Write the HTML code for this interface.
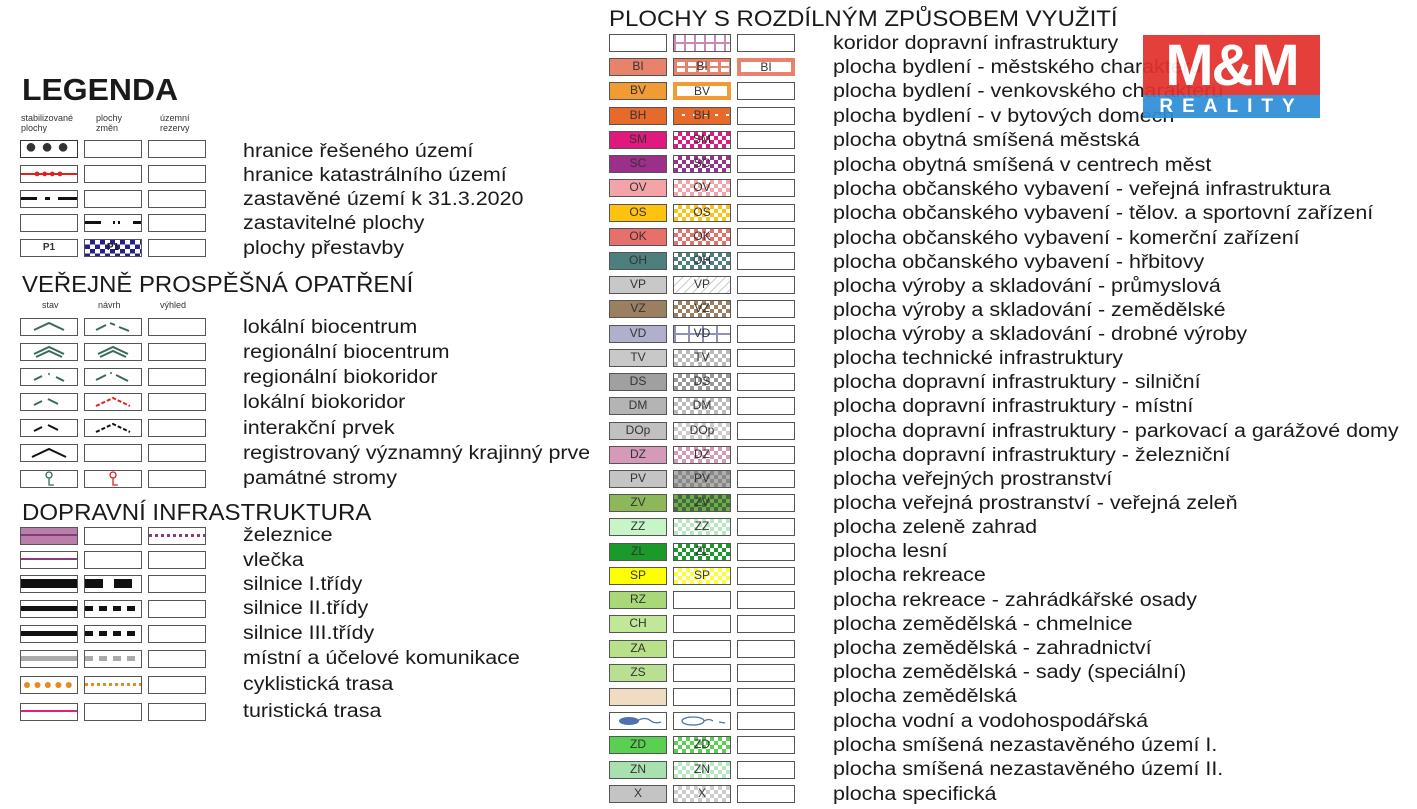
<!DOCTYPE html>
<html><head><meta charset="utf-8"><style>
body{margin:0;width:1417px;height:809px;background:#fff;position:relative;overflow:hidden;font-family:"Liberation Sans",sans-serif;color:#1a1a1a}
.b{position:absolute;box-sizing:border-box;width:58px;height:18px;border:1.5px solid #555;background:#fff;font-size:12px;line-height:15px;text-align:center;color:#333}
.t{position:absolute;font-size:19px;line-height:22px;white-space:nowrap;transform:scaleX(1.13);transform-origin:0 0}
.h{position:absolute;font-size:23px;white-space:nowrap;line-height:26px;transform-origin:0 0}
.s{position:absolute;font-size:9px;line-height:10px;color:#333}
.c1{left:609px}.c2{left:673px}.c3{left:737px}
.l1{left:20px}.l2{left:84px}.l3{left:148px}
</style></head><body>
<div style="position:absolute;left:22px;top:73px;font-size:31px;font-weight:bold;line-height:34px;transform:scaleX(1.03);transform-origin:0 0">LEGENDA</div>
<div class="s" style="left:21px;top:113px">stabilizované<br>plochy</div>
<div class="s" style="left:96px;top:113px">plochy<br>změn</div>
<div class="s" style="left:160px;top:113px">územní<br>rezervy</div>

<div class="b l1" style="top:140px;border-color:#333"><span style="font-size:20px;line-height:12px;letter-spacing:4px">●●●</span></div><div class="b l2" style="top:140px"></div><div class="b l3" style="top:140px"></div><div class="t" style="left:243px;top:141px">hranice řešeného území</div>
<div class="b l1" style="top:165px;background:linear-gradient(#fff 7px,#e0201a 7px,#e0201a 9px,#fff 9px)"><span style="color:#e0201a;font-size:11px;line-height:15px;letter-spacing:1px">●●●●</span></div><div class="b l2" style="top:165px"></div><div class="b l3" style="top:165px"></div><div class="t" style="left:243px;top:165px">hranice katastrálního území</div>
<div class="b l1" style="top:190px;background:linear-gradient(90deg,#111 0 16px,#fff 16px 24px,#111 24px 29px,#fff 29px 37px,#111 37px)0 6px/100% 3px no-repeat,#fff"></div><div class="b l2" style="top:190px"></div><div class="b l3" style="top:190px"></div><div class="t" style="left:243px;top:189px">zastavěné území k 31.3.2020</div>
<div class="b l1" style="top:214px"></div><div class="b l2" style="top:214px;background:linear-gradient(90deg,#111 0 16px,#fff 16px 28px,#111 28px 30px,#fff 30px 33px,#111 33px 35px,#fff 35px 48px,#111 48px)0 6px/100% 3px no-repeat,#fff"></div><div class="b l3" style="top:214px"></div><div class="t" style="left:243px;top:213px">zastavitelné plochy</div>
<div class="b l1" style="top:239px;font-weight:bold;font-size:10px">P1</div><div class="b l2" style="top:239px;background:repeating-conic-gradient(#22228a 0 25%,#fff 0 50%) 0 0/10px 9px;color:#222;font-weight:bold;font-size:10px">P1</div><div class="b l3" style="top:239px"></div><div class="t" style="left:243px;top:238px">plochy přestavby</div>

<div class="h" style="left:22px;top:271px;transform:scaleX(1.04)">VEŘEJNĚ PROSPĚŠNÁ OPATŘENÍ</div>
<div class="s" style="left:42px;top:300px">stav</div><div class="s" style="left:98px;top:300px">návrh</div><div class="s" style="left:160px;top:300px">výhled</div>

<div class="b l1" style="top:318px"><svg width="55" height="15"><polyline points="12,11 27,4 42,11" fill="none" stroke="#3a6a5a" stroke-width="2"/></svg></div><div class="b l2" style="top:318px"><svg width="55" height="15"><polyline points="10,11 20,6" stroke="#3a6a5a" stroke-width="2"/><polyline points="24,4 29,6" stroke="#3a6a5a" stroke-width="2"/><polyline points="33,8 43,12" stroke="#3a6a5a" stroke-width="2"/></svg></div><div class="b l3" style="top:318px"></div><div class="t" style="left:243px;top:317px">lokální biocentrum</div>
<div class="b l1" style="top:343px"><svg width="55" height="15"><polyline points="12,10 27,3 42,10" fill="none" stroke="#3a6a5a" stroke-width="2"/><polyline points="14,13 27,7 40,13" fill="none" stroke="#3a6a5a" stroke-width="2"/></svg></div><div class="b l2" style="top:343px"><svg width="55" height="15"><polyline points="12,10 27,3 42,10" fill="none" stroke="#3a6a5a" stroke-width="2"/><polyline points="14,13 27,7 40,13" fill="none" stroke="#3a6a5a" stroke-width="2"/></svg></div><div class="b l3" style="top:343px"></div><div class="t" style="left:243px;top:342px">regionální biocentrum</div>
<div class="b l1" style="top:368px"><svg width="55" height="15"><line x1="12" y1="11" x2="20" y2="7" stroke="#3a6a5a" stroke-width="2"/><line x1="34" y1="8" x2="42" y2="12" stroke="#3a6a5a" stroke-width="2"/><circle cx="27" cy="5" r="1" fill="#3a6a5a"/></svg></div><div class="b l2" style="top:368px"><svg width="55" height="15"><line x1="10" y1="11" x2="20" y2="6" stroke="#3a6a5a" stroke-width="2"/><line x1="30" y1="6" x2="42" y2="12" stroke="#3a6a5a" stroke-width="2"/><circle cx="25" cy="4" r="1" fill="#3a6a5a"/></svg></div><div class="b l3" style="top:368px"></div><div class="t" style="left:243px;top:367px">regionální biokoridor</div>
<div class="b l1" style="top:393px"><svg width="55" height="15"><line x1="12" y1="11" x2="20" y2="7" stroke="#3a6a5a" stroke-width="2"/><line x1="26" y1="5" x2="36" y2="10" stroke="#3a6a5a" stroke-width="2"/></svg></div><div class="b l2" style="top:393px"><svg width="55" height="15"><polyline points="10,12 27,4 44,12" fill="none" stroke="#d22" stroke-width="2" stroke-dasharray="4,2"/></svg></div><div class="b l3" style="top:393px"></div><div class="t" style="left:243px;top:392px">lokální biokoridor</div>
<div class="b l1" style="top:419px"><svg width="55" height="15"><line x1="12" y1="11" x2="20" y2="7" stroke="#111" stroke-width="2"/><line x1="26" y1="5" x2="36" y2="10" stroke="#111" stroke-width="2"/></svg></div><div class="b l2" style="top:419px"><svg width="55" height="15"><polyline points="10,12 27,4 44,12" fill="none" stroke="#111" stroke-width="2" stroke-dasharray="4,2"/></svg></div><div class="b l3" style="top:419px"></div><div class="t" style="left:243px;top:418px">interakční prvek</div>
<div class="b l1" style="top:444px"><svg width="55" height="15"><polyline points="10,12 27,4 44,12" fill="none" stroke="#111" stroke-width="2"/></svg></div><div class="b l2" style="top:444px"></div><div class="b l3" style="top:444px"></div><div style="position:absolute;left:243px;top:443px;width:346px;height:24px;overflow:hidden"><div class="t" style="left:0;top:0">registrovaný významný krajinný prvek</div></div>
<div class="b l1" style="top:470px"><svg width="55" height="15"><circle cx="27" cy="4" r="3" fill="none" stroke="#3a6a5a" stroke-width="1.3"/><polyline points="27,7 27,14 32,14" fill="none" stroke="#3a6a5a" stroke-width="1.3"/></svg></div><div class="b l2" style="top:470px"><svg width="55" height="15"><circle cx="27" cy="4" r="3" fill="none" stroke="#d22" stroke-width="1.3"/><polyline points="27,7 27,14 32,14" fill="none" stroke="#d22" stroke-width="1.3"/></svg></div><div class="b l3" style="top:470px"></div><div class="t" style="left:243px;top:468px">památné stromy</div>

<div class="h" style="left:22px;top:499px;transform:scaleX(1.045)">DOPRAVNÍ INFRASTRUKTURA</div>
<div class="b l1" style="top:527px;background:linear-gradient(#b87fa8 6px,#8a3a7a 6px,#8a3a7a 8px,#b87fa8 8px)"></div><div class="b l2" style="top:527px"></div><div class="b l3" style="top:527px;background:repeating-linear-gradient(90deg,#8a3a7a 0 3px,#fff 3px 6px)0 6px/100% 3px no-repeat,#fff"></div><div class="t" style="left:243px;top:525px">železnice</div>
<div class="b l1" style="top:551px;background:linear-gradient(#fff 6px,#8a3a7a 6px,#8a3a7a 8px,#fff 8px)"></div><div class="b l2" style="top:551px"></div><div class="b l3" style="top:551px"></div><div class="t" style="left:243px;top:550px">vlečka</div>
<div class="b l1" style="top:575px;background:linear-gradient(#fff 3px,#111 3px,#111 12px,#fff 12px)"></div><div class="b l2" style="top:575px;background:linear-gradient(90deg,#111 0 18px,#fff 18px 29px,#111 29px 47px,#fff 47px)0 3px/100% 9px no-repeat,#fff"></div><div class="b l3" style="top:575px"></div><div class="t" style="left:243px;top:574px">silnice I.třídy</div>
<div class="b l1" style="top:600px;background:linear-gradient(#fff 5px,#111 5px,#111 10px,#fff 10px)"></div><div class="b l2" style="top:600px;background:repeating-linear-gradient(90deg,#111 0 8px,#fff 8px 14px)0 5px/100% 5px no-repeat,#fff"></div><div class="b l3" style="top:600px"></div><div class="t" style="left:243px;top:598px">silnice II.třídy</div>
<div class="b l1" style="top:625px;background:linear-gradient(#fff 5px,#111 5px,#111 10px,#fff 10px)"></div><div class="b l2" style="top:625px;background:repeating-linear-gradient(90deg,#111 0 8px,#fff 8px 14px)0 5px/100% 5px no-repeat,#fff"></div><div class="b l3" style="top:625px"></div><div class="t" style="left:243px;top:623px">silnice III.třídy</div>
<div class="b l1" style="top:650px;background:linear-gradient(#fff 5px,#aaa 5px,#aaa 10px,#fff 10px)"></div><div class="b l2" style="top:650px;background:repeating-linear-gradient(90deg,#aaa 0 8px,#fff 8px 14px)0 5px/100% 5px no-repeat,#fff"></div><div class="b l3" style="top:650px"></div><div class="t" style="left:243px;top:648px">místní a účelové komunikace</div>
<div class="b l1" style="top:676px;color:#e88a20;font-size:14px;line-height:14px;letter-spacing:2px">●●●●●</div><div class="b l2" style="top:676px;background:repeating-linear-gradient(90deg,#e88a20 0 3px,#fff 3px 6px)0 6px/100% 3px no-repeat,#fff"></div><div class="b l3" style="top:676px"></div><div class="t" style="left:243px;top:674px">cyklistická trasa</div>
<div class="b l1" style="top:703px;background:linear-gradient(#fff 6px,#e0207f 6px,#e0207f 8px,#fff 8px)"></div><div class="b l2" style="top:703px"></div><div class="b l3" style="top:703px"></div><div class="t" style="left:243px;top:701px">turistická trasa</div>

<div class="h" style="left:609px;top:6px;font-size:22px;transform:scaleX(1.09)">PLOCHY S ROZDÍLNÝM ZPŮSOBEM VYUŽITÍ</div>

<div class="b c1" style="top:34px"></div><div class="b c2" style="top:34px;background:repeating-linear-gradient(90deg,#c88ab0 0 2px,transparent 2px 10px),linear-gradient(#fff 7px,#c88ab0 7px 9px,#fff 9px)"></div><div class="b c3" style="top:34px"></div><div class="t" style="left:833px;top:33px">koridor dopravní infrastruktury</div>
<div class="b c1" style="top:58px;background:#e8826a">BI</div><div class="b c2" style="top:58px;background:repeating-linear-gradient(90deg,#e8826a 0 3px,transparent 3px 11px),linear-gradient(#e8826a 3px,#fff 3px 7px,#e8826a 7px 9px,#fff 9px 13px,#e8826a 13px)">BI</div><div class="b c3" style="top:58px;border:4px solid #e8826a;line-height:10px">BI</div><div class="t" style="left:833px;top:57px">plocha bydlení - městského charakteru</div>
<div class="b c1" style="top:82px;background:#f29a33">BV</div><div class="b c2" style="top:82px;border:4px solid #f29a33;line-height:10px">BV</div><div class="b c3" style="top:82px"></div><div class="t" style="left:833px;top:81px">plocha bydlení - venkovského charakteru</div>
<div class="b c1" style="top:107px;background:#e86a2a">BH</div><div class="b c2" style="top:107px;background:repeating-linear-gradient(90deg,#e86a2a 0 8px,transparent 8px 11px),linear-gradient(#e86a2a 6px,#fff 6px 8px,#e86a2a 8px)">BH</div><div class="b c3" style="top:107px"></div><div class="t" style="left:833px;top:106px">plocha bydlení - v bytových domech</div>

<div class="b c1" style="top:131px;background:#e0197f">SM</div><div class="b c2" style="top:131px;background:repeating-conic-gradient(#e0197f 0 25%,#fff 0 50%) 0 0/8px 8px">SM</div><div class="b c3" style="top:131px"></div><div class="t" style="left:833px;top:130px">plocha obytná smíšená městská</div>
<div class="b c1" style="top:155px;background:#9b2f8a">SC</div><div class="b c2" style="top:155px;background:repeating-conic-gradient(#9b2f8a 0 25%,#fff 0 50%) 0 0/8px 8px">SC</div><div class="b c3" style="top:155px"></div><div class="t" style="left:833px;top:155px">plocha obytná smíšená v centrech měst</div>
<div class="b c1" style="top:179px;background:#f4a3a8">OV</div><div class="b c2" style="top:179px;background:repeating-conic-gradient(#f4a3a8 0 25%,#fff 0 50%) 0 0/8px 8px">OV</div><div class="b c3" style="top:179px"></div><div class="t" style="left:833px;top:179px">plocha občanského vybavení - veřejná infrastruktura</div>
<div class="b c1" style="top:204px;background:#ffc20e">OS</div><div class="b c2" style="top:204px;background:repeating-conic-gradient(#ffc20e 0 25%,#fff 0 50%) 0 0/8px 8px">OS</div><div class="b c3" style="top:204px"></div><div class="t" style="left:833px;top:203px">plocha občanského vybavení - tělov. a sportovní zařízení</div>
<div class="b c1" style="top:228px;background:#e8706b">OK</div><div class="b c2" style="top:228px;background:repeating-conic-gradient(#e8706b 0 25%,#fff 0 50%) 0 0/8px 8px">OK</div><div class="b c3" style="top:228px"></div><div class="t" style="left:833px;top:228px">plocha občanského vybavení - komerční zařízení</div>
<div class="b c1" style="top:252px;background:#4d7f7f">OH</div><div class="b c2" style="top:252px;background:repeating-conic-gradient(#4d7f7f 0 25%,#fff 0 50%) 0 0/8px 8px">OH</div><div class="b c3" style="top:252px"></div><div class="t" style="left:833px;top:252px">plocha občanského vybavení - hřbitovy</div>
<div class="b c1" style="top:276px;background:#c8c8c8">VP</div><div class="b c2" style="top:276px;background:repeating-linear-gradient(135deg,#ccc 0 1px,#fff 1px 6px)">VP</div><div class="b c3" style="top:276px"></div><div class="t" style="left:833px;top:276px">plocha výroby a skladování - průmyslová</div>
<div class="b c1" style="top:300px;background:#9a8060">VZ</div><div class="b c2" style="top:300px;background:repeating-conic-gradient(#9a8060 0 25%,#fff 0 50%) 0 0/8px 8px">VZ</div><div class="b c3" style="top:300px"></div><div class="t" style="left:833px;top:300px">plocha výroby a skladování - zemědělské</div>
<div class="b c1" style="top:325px;background:#b0b0cc">VD</div><div class="b c2" style="top:325px;background:repeating-linear-gradient(90deg,#9090c0 0 2px,transparent 2px 14px),linear-gradient(#fff 7px,#9090c0 7px 9px,#fff 9px)">VD</div><div class="b c3" style="top:325px"></div><div class="t" style="left:833px;top:324px">plocha výroby a skladování - drobné výroby</div>
<div class="b c1" style="top:349px;background:#c8c8c8">TV</div><div class="b c2" style="top:349px;background:repeating-conic-gradient(#bbb 0 25%,#fff 0 50%) 0 0/8px 8px">TV</div><div class="b c3" style="top:349px"></div><div class="t" style="left:833px;top:348px">plocha technické infrastruktury</div>
<div class="b c1" style="top:373px;background:#a0a0a0">DS</div><div class="b c2" style="top:373px;background:repeating-conic-gradient(#999 0 25%,#fff 0 50%) 0 0/8px 8px">DS</div><div class="b c3" style="top:373px"></div><div class="t" style="left:833px;top:372px">plocha dopravní infrastruktury - silniční</div>
<div class="b c1" style="top:397px;background:#b4b4b4">DM</div><div class="b c2" style="top:397px;background:repeating-conic-gradient(#bbb 0 25%,#fff 0 50%) 0 0/8px 8px">DM</div><div class="b c3" style="top:397px"></div><div class="t" style="left:833px;top:396px">plocha dopravní infrastruktury - místní</div>
<div class="b c1" style="top:422px;background:#c0c0c0">DOp</div><div class="b c2" style="top:422px;background:repeating-conic-gradient(#ccc 0 25%,#fff 0 50%) 0 0/8px 8px">DOp</div><div class="b c3" style="top:422px"></div><div class="t" style="left:833px;top:421px">plocha dopravní infrastruktury - parkovací a garážové domy</div>
<div class="b c1" style="top:446px;background:#d49ab8">DZ</div><div class="b c2" style="top:446px;background:repeating-conic-gradient(#d49ab8 0 25%,#fff 0 50%) 0 0/8px 8px">DZ</div><div class="b c3" style="top:446px"></div><div class="t" style="left:833px;top:445px">plocha dopravní infrastruktury - železniční</div>
<div class="b c1" style="top:470px;background:#c4c4c4">PV</div><div class="b c2" style="top:470px;background:repeating-conic-gradient(#888 0 25%,#b0b0b0 0 50%) 0 0/8px 8px">PV</div><div class="b c3" style="top:470px"></div><div class="t" style="left:833px;top:469px">plocha veřejných prostranství</div>
<div class="b c1" style="top:494px;background:#8cb85a">ZV</div><div class="b c2" style="top:494px;background:repeating-conic-gradient(#3a7040 0 25%,#78a848 0 50%) 0 0/8px 8px">ZV</div><div class="b c3" style="top:494px"></div><div class="t" style="left:833px;top:493px">plocha veřejná prostranství - veřejná zeleň</div>
<div class="b c1" style="top:518px;background:#c8f5c8">ZZ</div><div class="b c2" style="top:518px;background:repeating-conic-gradient(#b8e8c0 0 25%,#fff 0 50%) 0 0/8px 8px">ZZ</div><div class="b c3" style="top:518px"></div><div class="t" style="left:833px;top:517px">plocha zeleně zahrad</div>
<div class="b c1" style="top:543px;background:#1a9a2a">ZL</div><div class="b c2" style="top:543px;background:repeating-conic-gradient(#1a9a2a 0 25%,#fff 0 50%) 0 0/8px 8px">ZL</div><div class="b c3" style="top:543px"></div><div class="t" style="left:833px;top:541px">plocha lesní</div>
<div class="b c1" style="top:567px;background:#ffff00">SP</div><div class="b c2" style="top:567px;background:repeating-conic-gradient(#ffff30 0 25%,#fff 0 50%) 0 0/8px 8px">SP</div><div class="b c3" style="top:567px"></div><div class="t" style="left:833px;top:565px">plocha rekreace</div>
<div class="b c1" style="top:591px;background:#a8d878">RZ</div><div class="b c2" style="top:591px"></div><div class="b c3" style="top:591px"></div><div class="t" style="left:833px;top:590px">plocha rekreace - zahrádkářské osady</div>
<div class="b c1" style="top:615px;background:#c0e898">CH</div><div class="b c2" style="top:615px"></div><div class="b c3" style="top:615px"></div><div class="t" style="left:833px;top:614px">plocha zemědělská - chmelnice</div>
<div class="b c1" style="top:640px;background:#b8e28a">ZA</div><div class="b c2" style="top:640px"></div><div class="b c3" style="top:640px"></div><div class="t" style="left:833px;top:638px">plocha zemědělská - zahradnictví</div>
<div class="b c1" style="top:664px;background:#b8e090">ZS</div><div class="b c2" style="top:664px"></div><div class="b c3" style="top:664px"></div><div class="t" style="left:833px;top:662px">plocha zemědělská - sady (speciální)</div>
<div class="b c1" style="top:688px;background:#f0dcc0"></div><div class="b c2" style="top:688px"></div><div class="b c3" style="top:688px"></div><div class="t" style="left:833px;top:686px">plocha zemědělská</div>
<div class="b c1" style="top:712px"><svg width="55" height="15"><ellipse cx="18" cy="8" rx="10" ry="4" fill="#5070b0"/><path d="M26,8 Q34,3 40,8 Q44,11 50,9" fill="none" stroke="#5070b0" stroke-width="1.3"/></svg></div><div class="b c2" style="top:712px"><svg width="55" height="15"><ellipse cx="18" cy="8" rx="11" ry="4" fill="none" stroke="#5070b0" stroke-width="1.3"/><path d="M29,8 Q34,5 38,8 M44,9 L50,10" fill="none" stroke="#5070b0" stroke-width="1.3"/></svg></div><div class="b c3" style="top:712px"></div><div class="t" style="left:833px;top:711px">plocha vodní a vodohospodářská</div>
<div class="b c1" style="top:736px;background:#58d050">ZD</div><div class="b c2" style="top:736px;background:repeating-conic-gradient(#58d050 0 25%,#fff 0 50%) 0 0/8px 8px">ZD</div><div class="b c3" style="top:736px"></div><div class="t" style="left:833px;top:735px">plocha smíšená nezastavěného území I.</div>
<div class="b c1" style="top:761px;background:#a8e0b0">ZN</div><div class="b c2" style="top:761px;background:repeating-conic-gradient(#b8e8c0 0 25%,#fff 0 50%) 0 0/8px 8px">ZN</div><div class="b c3" style="top:761px"></div><div class="t" style="left:833px;top:759px">plocha smíšená nezastavěného území II.</div>
<div class="b c1" style="top:785px;background:#c4c4c4">X</div><div class="b c2" style="top:785px;background:repeating-conic-gradient(#ccc 0 25%,#fff 0 50%) 0 0/8px 8px">X</div><div class="b c3" style="top:785px"></div><div class="t" style="left:833px;top:784px">plocha specifická</div>

<div style="position:absolute;left:1143px;top:35px;width:177px;height:60px;background:#e3312d;color:#fff;font-weight:bold;font-size:58px;line-height:62px;text-align:center;letter-spacing:-2px;opacity:0.93">M&amp;M</div>
<div style="position:absolute;left:1143px;top:95px;width:177px;height:23px;background:#2f8fd8;color:#fff;font-weight:bold;font-size:19px;line-height:23px;text-align:center;letter-spacing:9px;opacity:0.93">REALITY</div>
</body></html>
